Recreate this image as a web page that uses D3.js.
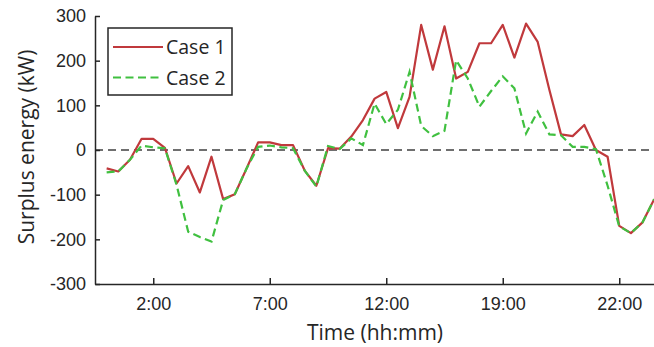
<!DOCTYPE html>
<html>
<head>
<meta charset="utf-8">
<script src="https://cdn.jsdelivr.net/npm/d3@7"></script>
<style>
  html, body { margin: 0; padding: 0; background: #fff; }
  svg { display: block; font-family: "Open Sans", sans-serif; }
</style>
</head>
<body>
<svg id="chart" width="654" height="347"></svg>
<script>
// half-hour steps, index 1..48
const steps = d3.range(1, 49);
const case1 = [-41, -48, -22, 25, 25, 5, -75, -36, -95, -15,
  -110, -99, -42, 17, 17, 11, 11, -46, -80, 4,
  3, 30, 67, 115, 130, 49, 119, 280, 180, 277,
  160, 175, 239, 239, 280, 207, 283, 242, 135, 35,
  31, 56, 0, -15, -170, -186, -162, -110];
const case2 = [-50, -48, -22, 10, 6, 4, -78, -183, -195, -205,
  -112, -99, -42, 7, 10, 6, 4, -46, -82, 9,
  2, 26, 11, 104, 58, 90, 175, 54, 31, 43,
  201, 160, 97, 132, 165, 138, 37, 86, 35, 33,
  7, 7, 2, -80, -171, -186, -162, -110];
const xTickPos = [5, 15, 25, 35, 45];
const xTickLabels = ['2:00', '7:00', '12:00', '19:00', '22:00'];
const yTicks = [-300, -200, -100, 0, 100, 200, 300];

const svg = d3.select('#chart');
const margin = { top: 16, right: 0, bottom: 63, left: 95 };
const width = 654 - margin.left - margin.right;
const height = 347 - margin.top - margin.bottom;
const axisColor = '#262626';

const x = d3.scaleLinear().domain([0, 48]).range([0, width + 0.2]);
const y = d3.scaleLinear().domain([-300, 300]).range([height, 0]);

const g = svg.append('g').attr('transform', `translate(${margin.left},${margin.top})`);

// zero reference line
g.append('line')
  .attr('x1', 0).attr('x2', width)
  .attr('y1', y(0)).attr('y2', y(0))
  .attr('stroke', '#404040').attr('stroke-width', 1.5)
  .attr('stroke-dasharray', '8,5');

const line = d3.line().x((d, i) => x(steps[i])).y(d => y(d));

g.append('path').datum(case1)
  .attr('d', line).attr('fill', 'none')
  .attr('stroke', '#c0393c').attr('stroke-width', 2.2)
  .attr('stroke-linejoin', 'round');

g.append('path').datum(case2)
  .attr('d', line).attr('fill', 'none')
  .attr('stroke', '#40c040').attr('stroke-width', 2.2)
  .attr('stroke-dasharray', '8,4.5');

// axes (plain hyphen for negatives, like the original)
const yAxis = d3.axisLeft(y).tickValues(yTicks).tickFormat(d => String(d))
  .tickSizeInner(-5).tickSizeOuter(0).tickPadding(9);
const xAxis = d3.axisBottom(x).tickValues(xTickPos)
  .tickFormat((d, i) => xTickLabels[i]).tickSizeInner(-6).tickSizeOuter(0).tickPadding(13);

const ya = g.append('g').call(yAxis);
const xa = g.append('g').attr('transform', `translate(0,${height})`).call(xAxis);

[ya, xa].forEach(a => {
  a.select('.domain').attr('stroke', axisColor).attr('stroke-width', 1.5);
  a.selectAll('.tick line').attr('stroke', axisColor).attr('stroke-width', 1.5);
  a.selectAll('.tick text').attr('fill', axisColor).style('font-size', '18px');
});

// axis titles
svg.append('text')
  .attr('x', 375).attr('y', 340)
  .attr('text-anchor', 'middle')
  .attr('fill', axisColor)
  .style('font-size', '21px')
  .text('Time (hh:mm)');

svg.append('text')
  .attr('transform', `translate(34,${margin.top + y(0) - 3}) rotate(-90)`)
  .attr('text-anchor', 'middle')
  .attr('fill', axisColor)
  .style('font-size', '21px')
  .text('Surplus energy (kW)');

// legend
const legend = svg.append('g').attr('transform', 'translate(108,28)');
legend.append('rect')
  .attr('width', 124).attr('height', 67)
  .attr('fill', '#fff').attr('stroke', axisColor).attr('stroke-width', 1.5);

const items = [
  { label: 'Case 1', color: '#c0393c', dash: null },
  { label: 'Case 2', color: '#40c040', dash: '8,4.5' }
];
items.forEach((it, i) => {
  const yy = 19 + i * 30.5;
  legend.append('line')
    .attr('x1', 5).attr('x2', 55).attr('y1', yy).attr('y2', yy)
    .attr('stroke', it.color).attr('stroke-width', 2.2)
    .attr('stroke-dasharray', it.dash);
  legend.append('text')
    .attr('x', 58).attr('y', yy + 7)
    .attr('fill', axisColor)
    .style('font-size', '19.5px')
    .text(it.label);
});
</script>
</body>
</html>
